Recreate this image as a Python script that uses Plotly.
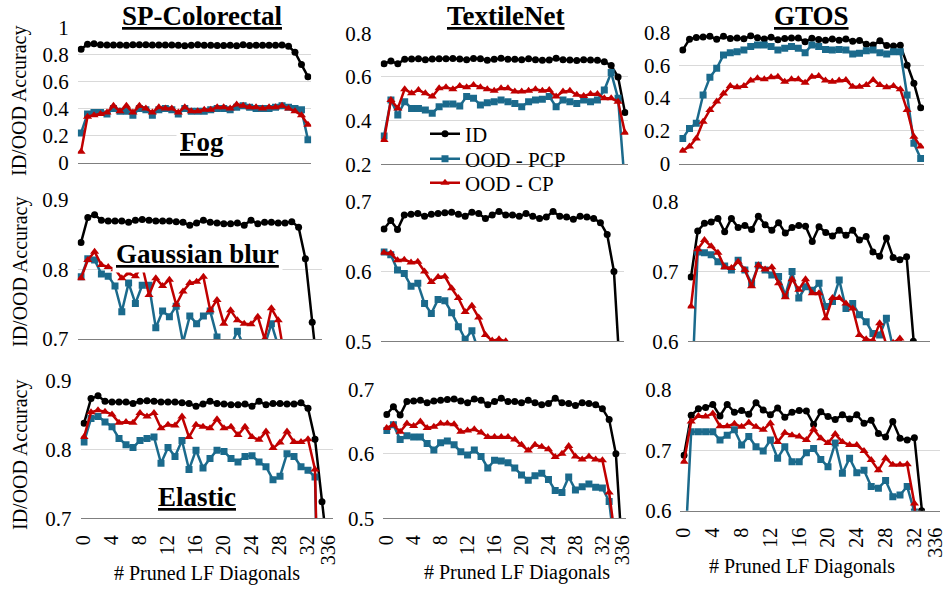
import plotly.graph_objects as go
from plotly.subplots import make_subplots

# ---------------- data ----------------
categories = ["0", "1", "2", "3", "4", "5", "6", "7", "8", "9", "10", "11", "12", "13", "14", "15", "16", "17",
              "18", "19", "20", "21", "22", "23", "24", "25", "26", "27", "28", "29", "30", "31", "32", "33", "34", "336"]
x_tick_labels = ["0", "4", "8", "12", "16", "20", "24", "28", "32", "336"]

datasets = ["SP-Colorectal", "TextileNet", "GTOS"]
corruptions = ["Fog", "Gaussian blur", "Elastic"]
series_names = ["ID", "OOD - PCP", "OOD - CP"]

# ID accuracy (same for every corruption row)
sp_id = [0.838, 0.874, 0.878, 0.870, 0.869, 0.869, 0.869, 0.867, 0.870, 0.871, 0.870, 0.869, 0.869, 0.869, 0.868, 0.867,
         0.863, 0.866, 0.870, 0.867, 0.866, 0.865, 0.865, 0.866, 0.863, 0.870, 0.865, 0.867, 0.867, 0.866, 0.866, 0.868,
         0.860, 0.815, 0.724, 0.635]
tx_id = [0.661, 0.673, 0.660, 0.681, 0.682, 0.683, 0.679, 0.682, 0.683, 0.684, 0.685, 0.682, 0.679, 0.685, 0.683, 0.676,
         0.681, 0.686, 0.681, 0.681, 0.679, 0.683, 0.679, 0.676, 0.678, 0.686, 0.679, 0.678, 0.675, 0.679, 0.678, 0.676,
         0.670, 0.653, 0.600, 0.437]
gt_id = [0.692, 0.758, 0.769, 0.771, 0.776, 0.757, 0.776, 0.763, 0.766, 0.760, 0.779, 0.767, 0.759, 0.770, 0.755, 0.763,
         0.766, 0.765, 0.743, 0.764, 0.756, 0.751, 0.759, 0.752, 0.759, 0.745, 0.750, 0.728, 0.722, 0.748, 0.720, 0.717,
         0.721, 0.600, 0.490, 0.340]

# SP-Colorectal
sp_fog_pcp = [0.22, 0.36, 0.37, 0.37, 0.36, 0.40, 0.38, 0.38, 0.35, 0.40, 0.39, 0.35, 0.39, 0.40, 0.39, 0.36, 0.40, 0.38,
              0.38, 0.38, 0.39, 0.40, 0.40, 0.39, 0.41, 0.42, 0.41, 0.40, 0.40, 0.40, 0.41, 0.42, 0.41, 0.40, 0.39, 0.17]
sp_fog_cp = [0.08, 0.34, 0.35, 0.36, 0.37, 0.42, 0.38, 0.42, 0.37, 0.42, 0.40, 0.37, 0.41, 0.40, 0.40, 0.37, 0.41, 0.38,
             0.38, 0.39, 0.39, 0.41, 0.41, 0.40, 0.43, 0.42, 0.41, 0.41, 0.40, 0.41, 0.41, 0.42, 0.40, 0.38, 0.35, 0.28]
sp_gb_pcp = [0.789, 0.815, 0.813, 0.793, 0.790, 0.776, 0.739, 0.780, 0.751, 0.777, 0.777, 0.716, 0.740, 0.732, 0.747,
             0.695, 0.733, 0.722, 0.733, 0.740, 0.703, 0.685, 0.690, 0.711, 0.688, 0.680, 0.690, 0.690, 0.722, 0.690,
             None, None, None, None, None, None]
sp_gb_cp = [0.787, 0.813, 0.825, 0.806, 0.803, 0.800, 0.787, 0.794, 0.790, 0.805, 0.763, 0.787, 0.776, 0.785, 0.749,
            0.768, 0.780, 0.782, 0.789, 0.741, 0.756, 0.722, 0.741, 0.727, 0.722, 0.721, 0.732, 0.700, 0.744, 0.727,
            0.670, None, None, None, None, None]
sp_el_pcp = [0.811, 0.845, 0.848, 0.840, 0.833, 0.816, 0.807, 0.803, 0.813, 0.816, 0.818, 0.780, 0.803, 0.790, 0.813,
             0.771, 0.799, 0.773, 0.787, 0.799, 0.797, 0.787, 0.782, 0.790, 0.791, 0.782, 0.775, 0.756, 0.761, 0.794,
             0.790, 0.775, 0.770, 0.760, 0.300, None]
sp_el_cp = [0.818, 0.854, 0.857, 0.855, 0.851, 0.839, 0.840, 0.839, 0.853, 0.848, 0.853, 0.831, 0.836, 0.835, 0.848,
            0.818, 0.836, 0.833, 0.831, 0.844, 0.831, 0.833, 0.821, 0.833, 0.818, 0.814, 0.826, 0.802, 0.810, 0.826,
            0.811, 0.811, 0.815, 0.771, 0.300, None]

# TextileNet
tx_fog_pcp = [0.330, 0.495, 0.426, 0.487, 0.456, 0.456, 0.449, 0.434, 0.464, 0.476, 0.476, 0.467, 0.510, 0.502, 0.472,
              0.482, 0.487, 0.495, 0.487, 0.479, 0.464, 0.487, 0.495, 0.498, 0.510, 0.464, 0.495, 0.487, 0.479, 0.495,
              0.487, 0.495, 0.540, 0.620, 0.502, 0.100]
tx_fog_cp = [0.311, 0.495, 0.456, 0.544, 0.525, 0.540, 0.525, 0.510, 0.548, 0.553, 0.544, 0.559, 0.553, 0.563, 0.553,
             0.544, 0.537, 0.548, 0.548, 0.533, 0.533, 0.537, 0.544, 0.537, 0.540, 0.510, 0.533, 0.537, 0.518, 0.513,
             0.522, 0.522, 0.502, 0.502, 0.487, 0.345]
tx_gb_pcp = [0.628, 0.624, 0.602, 0.597, 0.579, 0.583, 0.554, 0.540, 0.560, 0.558, 0.541, 0.521, 0.503, 0.515, 0.485,
             None, None, None, None, None, None, None, None, None, None, None, None, None, None, None,
             None, None, None, None, None, None]
tx_gb_cp = [0.627, 0.626, 0.616, 0.617, 0.613, 0.614, 0.600, 0.585, 0.592, 0.593, 0.576, 0.562, 0.542, 0.551, 0.534,
            0.509, 0.501, 0.503, 0.500, 0.480, None, None, None, None, None, None, None, None, None, None,
            None, None, None, None, None, None]
tx_el_pcp = [0.636, 0.645, 0.622, 0.628, 0.626, 0.626, 0.616, 0.606, 0.617, 0.620, 0.614, 0.603, 0.598, 0.606, 0.596,
             0.578, 0.590, 0.589, 0.586, 0.578, 0.567, 0.559, 0.566, 0.570, 0.560, 0.543, 0.540, 0.564, 0.544, 0.549,
             0.553, 0.548, 0.547, 0.526, 0.440, None]
tx_el_cp = [0.640, 0.645, 0.634, 0.647, 0.643, 0.650, 0.640, 0.642, 0.647, 0.647, 0.646, 0.634, 0.636, 0.638, 0.633,
            0.626, 0.626, 0.626, 0.626, 0.622, 0.614, 0.605, 0.614, 0.611, 0.607, 0.595, 0.600, 0.612, 0.596, 0.591,
            0.596, 0.591, 0.590, 0.540, 0.460, None]

# GTOS
gt_fog_pcp = [0.154, 0.215, 0.246, 0.418, 0.526, 0.581, 0.662, 0.676, 0.682, 0.692, 0.713, 0.723, 0.723, 0.713, 0.692,
              0.703, 0.713, 0.703, 0.676, 0.723, 0.713, 0.696, 0.692, 0.696, 0.692, 0.668, 0.672, 0.688, 0.692, 0.676,
              0.668, 0.682, 0.682, 0.418, 0.124, 0.032]
gt_fog_cp = [0.079, 0.104, 0.154, 0.256, 0.327, 0.378, 0.428, 0.473, 0.465, 0.473, 0.506, 0.520, 0.514, 0.526, 0.530,
             0.499, 0.514, 0.514, 0.493, 0.530, 0.534, 0.506, 0.499, 0.506, 0.510, 0.469, 0.469, 0.479, 0.510, 0.479,
             0.465, 0.473, 0.453, 0.327, 0.164, 0.104]
gt_gb_pcp = [0.500, 0.728, 0.727, 0.724, 0.714, 0.708, 0.702, 0.716, 0.702, 0.683, 0.709, 0.702, 0.695, 0.693, 0.666,
             0.700, 0.662, 0.678, 0.673, 0.683, 0.650, 0.657, 0.688, 0.647, 0.654, 0.638, 0.628, 0.611, 0.609, 0.633,
             0.590, None, None, None, None, None]
gt_gb_cp = [0.650, 0.732, 0.745, 0.736, 0.727, 0.706, 0.705, 0.714, 0.702, 0.679, 0.709, 0.703, 0.706, 0.683, 0.663,
            0.689, 0.674, 0.689, 0.669, 0.669, 0.633, 0.662, 0.662, 0.654, 0.647, 0.609, 0.603, 0.601, 0.626, 0.595,
            0.598, 0.604, 0.580, None, None, None]
gt_el_pcp = [0.500, 0.731, 0.731, 0.731, 0.731, 0.717, 0.725, 0.734, 0.709, 0.723, 0.706, 0.699, 0.717, 0.687, 0.706,
             0.681, 0.681, 0.696, 0.703, 0.685, 0.673, 0.712, 0.662, 0.687, 0.663, 0.667, 0.640, 0.637, 0.650, 0.623,
             0.626, 0.640, 0.598, 0.450, None, None]
gt_el_cp = [0.681, 0.748, 0.757, 0.756, 0.761, 0.740, 0.740, 0.744, 0.739, 0.746, 0.739, 0.734, 0.745, 0.714, 0.729,
            0.725, 0.723, 0.717, 0.735, 0.720, 0.712, 0.727, 0.714, 0.709, 0.709, 0.699, 0.684, 0.667, 0.687, 0.676,
            0.676, 0.677, 0.612, 0.450, None, None]

# y-axis ranges / ticks per (row, col)
y_ranges = {
    (1, 1): [0, 1], (1, 2): [0.2, 0.8], (1, 3): [0, 0.8],
    (2, 1): [0.7, 0.9], (2, 2): [0.5, 0.7], (2, 3): [0.6, 0.8],
    (3, 1): [0.7, 0.9], (3, 2): [0.5, 0.7], (3, 3): [0.6, 0.8],
}
y_ticks = {
    (1, 1): [0, 0.2, 0.4, 0.6, 0.8, 1], (1, 2): [0.2, 0.4, 0.6, 0.8], (1, 3): [0, 0.2, 0.4, 0.6, 0.8],
    (2, 1): [0.7, 0.8, 0.9], (2, 2): [0.5, 0.6, 0.7], (2, 3): [0.6, 0.7, 0.8],
    (3, 1): [0.7, 0.8, 0.9], (3, 2): [0.5, 0.6, 0.7], (3, 3): [0.6, 0.7, 0.8],
}

id_series = [sp_id, tx_id, gt_id]
ood_series = {
    (1, 1): (sp_fog_pcp, sp_fog_cp), (2, 1): (sp_gb_pcp, sp_gb_cp), (3, 1): (sp_el_pcp, sp_el_cp),
    (1, 2): (tx_fog_pcp, tx_fog_cp), (2, 2): (tx_gb_pcp, tx_gb_cp), (3, 2): (tx_el_pcp, tx_el_cp),
    (1, 3): (gt_fog_pcp, gt_fog_cp), (2, 3): (gt_gb_pcp, gt_gb_cp), (3, 3): (gt_el_pcp, gt_el_cp),
}

# ---------------- layout geometry (pixels) ----------------
W, H = 950, 590
FONT = "Liberation Serif, Times New Roman, serif"
plot_px = {
    (1, 1): (77.8, 311.2, 27.2, 162.7), (1, 2): (380.6, 628.4, 33.3, 164.3), (1, 3): (679.3, 924.1, 32.3, 163.7),
    (2, 1): (77.6, 322.4, 199.3, 339.0), (2, 2): (380.6, 624.1, 201.7, 341.3), (2, 3): (687.6, 930.2, 201.7, 341.3),
    (3, 1): (80.5, 332.5, 380.7, 518.3), (3, 2): (383.3, 626.0, 389.3, 518.3), (3, 3): (680.4, 939.6, 390.0, 510.7),
}

colors = ["#000000", "#1B6A8C", "#C00000"]
symbols = ["circle", "square", "triangle-up"]
msizes = [7, 7, 8]
legends = ["legend", "legend2", "legend3"]

fig = make_subplots(rows=3, cols=3)

for r in range(1, 4):
    for c in range(1, 4):
        pcp, cp = ood_series[(r, c)]
        ys = [id_series[c - 1], pcp, cp]
        for k in range(3):
            fig.add_trace(go.Scatter(
                x=categories, y=ys[k], name=series_names[k], mode="lines+markers",
                line=dict(color=colors[k], width=2.5),
                marker=dict(symbol=symbols[k], size=msizes[k], color=colors[k]),
                showlegend=(r == 1 and c == 1), legend=legends[k],
            ), row=r, col=c)

        idx = (r - 1) * 3 + c
        x0, x1, yt, yb = plot_px[(r, c)]
        xa = "xaxis" if idx == 1 else f"xaxis{idx}"
        ya = "yaxis" if idx == 1 else f"yaxis{idx}"
        fig.layout[xa].update(
            domain=[x0 / W, x1 / W], type="category", range=[-0.5, 35.5], automargin=False,
            showgrid=False, showline=True, linecolor="#7f7f7f", linewidth=1, ticks="",
            tickmode="array", tickvals=x_tick_labels, ticktext=x_tick_labels, tickangle=-90,
            tickfont=dict(family=FONT, size=20, color="black"), showticklabels=(r == 3),
            ticklabelstandoff=8, zeroline=False,
        )
        fig.layout[ya].update(
            domain=[1 - yb / H, 1 - yt / H], range=y_ranges[(r, c)], tickmode="array", automargin=False,
            tickvals=y_ticks[(r, c)], showgrid=True, gridcolor="#d9d9d9", gridwidth=1,
            showline=False, zeroline=False, ticks="", ticklabelstandoff=8,
            tickfont=dict(family=FONT, size=21, color="black"),
        )

annotations = []
# dataset titles
for name, (px, py) in zip(datasets, [(201.7, 16), (505.8, 16), (811.7, 16)]):
    annotations.append(dict(text=f"<u>{name}</u>", x=px / W, y=1 - py / H, xref="paper", yref="paper",
                            showarrow=False, xanchor="center", yanchor="middle",
                            font=dict(family=FONT, size=27, color="black", weight="bold")))
# corruption labels (white boxes)
for name, (px, py) in zip(corruptions, [(201.7, 142), (197.5, 254), (196.7, 497)]):
    annotations.append(dict(text=f"<u>{name}</u>", x=px / W, y=1 - py / H, xref="paper", yref="paper",
                            showarrow=False, xanchor="center", yanchor="middle", bgcolor="white", borderpad=3,
                            font=dict(family=FONT, size=27, color="black", weight="bold")))
# y titles
for py in [101, 272, 455]:
    annotations.append(dict(text="ID/OOD Accuracy", x=20 / W, y=1 - py / H, xref="paper", yref="paper",
                            showarrow=False, textangle=-90, xanchor="center", yanchor="middle",
                            font=dict(family=FONT, size=20, color="black")))
# x titles
for px, py in [(206.7, 573), (516.7, 572), (801.7, 566)]:
    annotations.append(dict(text="# Pruned LF Diagonals", x=px / W, y=1 - py / H, xref="paper", yref="paper",
                            showarrow=False, xanchor="center", yanchor="middle",
                            font=dict(family=FONT, size=20, color="black")))

leg_common = dict(xanchor="left", yanchor="middle", bgcolor="rgba(0,0,0,0)", borderwidth=0,
                  font=dict(family=FONT, size=21, color="black"), itemwidth=30)
fig.update_layout(
    width=W, height=H, margin=dict(l=0, r=0, t=0, b=0, autoexpand=False),
    paper_bgcolor="white", plot_bgcolor="white", showlegend=True,
    annotations=annotations,
    legend=dict(x=425 / W, y=1 - 134 / H, **leg_common),
    legend2=dict(x=425 / W, y=1 - 159 / H, **leg_common),
    legend3=dict(x=425 / W, y=1 - 183 / H, **leg_common),
    font=dict(family=FONT, color="black"),
)

fig.write_html("out.html")
